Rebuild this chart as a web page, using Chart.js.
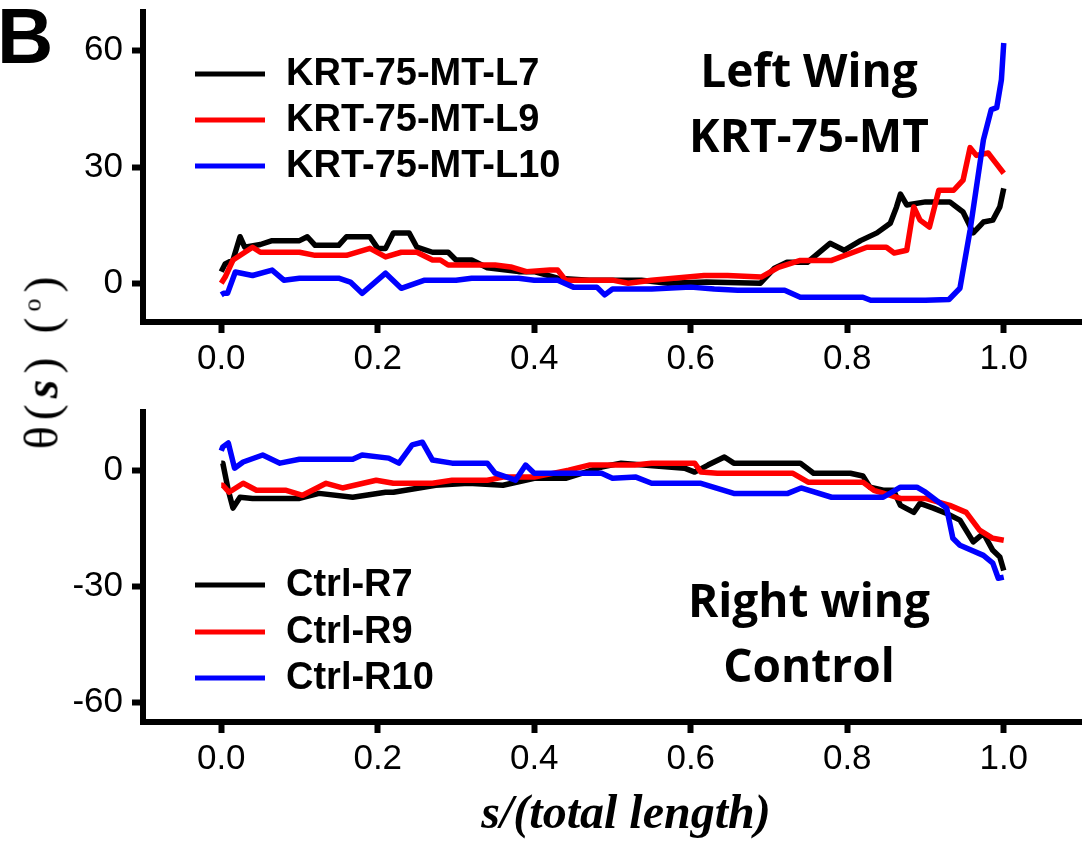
<!DOCTYPE html>
<html>
<head>
<meta charset="utf-8">
<script src="https://cdn.jsdelivr.net/npm/chart.js@4.4.1/dist/chart.umd.min.js"></script>
<style>
  body { margin: 0; background: #fff; }
  #wrap { position: relative; width: 1082px; height: 843px; overflow: hidden; background: #fff; }
  canvas { position: absolute; left: 0; }
  #panel { position: absolute; left: -3px; top: -3px; font: bold 78px "Liberation Sans", Arial, sans-serif; line-height: 78px; color: #000; }
  #ytitle { position: absolute; left: 41px; top: 360px; transform: translate(-50%, -50%) rotate(-90deg);
            font: 48px "Liberation Serif", "Times New Roman", serif; letter-spacing: 6px; white-space: nowrap; color: #000; }
  #ytitle sup { font-size: 26px; }
  #xtitle { position: absolute; left: 0; width: 1252px; top: 784px; text-align: center;
            font: italic bold 48px "Liberation Serif", "Times New Roman", serif; color: #000; white-space: nowrap; }
</style>
</head>
<body>
<div id="wrap">
  <div id="panel">B</div>
  <canvas id="topChart" width="1082" height="390" style="top:0"></canvas>
  <canvas id="bottomChart" width="1082" height="400" style="top:390px"></canvas>
  <div id="ytitle">θ(<b><i>s</i></b>)&nbsp;(<sup>o</sup>)</div>
  <div id="xtitle">s/(total length)</div>
</div>
<script>
// tick values
const sTicks = [0.0, 0.2, 0.4, 0.6, 0.8, 1.0];
const topTicks = [0, 30, 60];
const bottomTicks = [-60, -30, 0];

// left wing, KRT-75-MT
const L7_s = [0.0, 0.005, 0.015, 0.024, 0.03, 0.05, 0.065, 0.1, 0.11, 0.12, 0.15, 0.16, 0.19, 0.2, 0.21, 0.22, 0.24, 0.25, 0.27, 0.29, 0.30, 0.32, 0.34, 0.38, 0.40, 0.43, 0.47, 0.486, 0.537, 0.571, 0.62, 0.689, 0.707, 0.723, 0.749, 0.778, 0.796, 0.817, 0.838, 0.855, 0.863, 0.868, 0.876, 0.9, 0.931, 0.948, 0.961, 0.974, 0.986, 0.995, 1.0];
const L7_theta = [3, 5, 6, 12, 9.3, 10, 11, 11, 12, 9.8, 9.8, 12, 12, 9, 9, 13, 13, 9.3, 8, 8, 6, 6, 4, 3, 3, 1.3, 0.8, 0.8, 0.8, 0, 0.3, 0, 3.9, 5.4, 5.4, 10.3, 8.5, 11, 13, 15.5, 19.7, 23, 20.2, 21, 21, 18.4, 13, 15.8, 16.3, 19.7, 24.5];

const L9_s = [0.0, 0.005, 0.015, 0.04, 0.05, 0.1, 0.12, 0.16, 0.19, 0.21, 0.23, 0.25, 0.27, 0.28, 0.29, 0.35, 0.37, 0.39, 0.42, 0.43, 0.44, 0.5, 0.52, 0.55, 0.617, 0.647, 0.69, 0.712, 0.74, 0.78, 0.825, 0.85, 0.86, 0.876, 0.885, 0.893, 0.905, 0.917, 0.936, 0.948, 0.957, 0.965, 0.98, 0.99, 1.0];
const L9_theta = [0, 1.6, 6, 9.3, 8, 8, 7.2, 7.2, 9, 6.8, 8, 8, 6, 6, 4.7, 4.7, 4.2, 3, 3.4, 3.4, 0.8, 0.8, 0, 0.8, 2, 2, 1.6, 4.1, 5.9, 5.9, 9.3, 9.3, 7.8, 8.5, 19.7, 16.3, 14.5, 24, 24, 26.6, 35, 33, 33.6, 31, 28.4];

const L10_s = [0.0, 0.003, 0.008, 0.018, 0.04, 0.065, 0.08, 0.1, 0.15, 0.165, 0.18, 0.21, 0.23, 0.26, 0.3, 0.32, 0.38, 0.4, 0.43, 0.45, 0.48, 0.49, 0.5, 0.55, 0.6, 0.63, 0.66, 0.72, 0.74, 0.82, 0.83, 0.9, 0.93, 0.944, 0.957, 0.974, 0.984, 0.991, 0.997, 1.0];
const L10_theta = [-3, -2.6, -2.6, 2.9, 2, 3.4, 0.8, 1.3, 1.3, 0.3, -2.6, 2.6, -1.3, 0.8, 0.8, 1.3, 1.3, 0.8, 0.8, -1, -1, -3, -1.5, -1.5, -1, -1.5, -1.8, -1.8, -3.6, -3.6, -4.4, -4.4, -4.2, -1.3, 13.7, 37, 44.8, 45.3, 52.5, 62];

// right wing, control
const R7_s = [0.0, 0.002, 0.009, 0.015, 0.024, 0.04, 0.1, 0.125, 0.168, 0.21, 0.22, 0.274, 0.316, 0.36, 0.4, 0.44, 0.486, 0.511, 0.592, 0.605, 0.622, 0.643, 0.655, 0.74, 0.757, 0.804, 0.82, 0.829, 0.846, 0.859, 0.868, 0.885, 0.893, 0.91, 0.927, 0.944, 0.961, 0.974, 0.986, 0.995, 1.0];
const R7_theta = [1.8, 1.8, -5.2, -9.8, -7, -7.3, -7.3, -6, -7, -5.7, -5.7, -3.9, -3.4, -3.9, -2.1, -2.1, 0.8, 1.8, 0.5, -0.5, 1.3, 3.4, 1.8, 1.8, -0.8, -0.8, -1.5, -4.4, -5.2, -5.2, -9.1, -10.9, -8.6, -9.8, -11.2, -12.9, -18.5, -16.3, -20.7, -22.4, -25.9];

const R9_s = [0.0, 0.002, 0.01, 0.028, 0.045, 0.083, 0.104, 0.134, 0.155, 0.198, 0.22, 0.27, 0.295, 0.34, 0.36, 0.4, 0.444, 0.47, 0.528, 0.55, 0.605, 0.613, 0.634, 0.73, 0.75, 0.82, 0.834, 0.868, 0.9, 0.931, 0.952, 0.969, 0.986, 1.0];
const R9_theta = [-3.9, -3.9, -5.7, -3.4, -5.2, -5.2, -6.5, -3.4, -4.6, -2.6, -3.4, -3.4, -2.6, -2.6, -1.8, -1.8, 0, 1.3, 1.3, 1.8, 1.8, -0.5, -0.8, -0.8, -3.1, -3.1, -5.2, -7.3, -7.3, -9.1, -10.9, -15.5, -17.6, -18.1];

const R10_s = [0.0, 0.002, 0.009, 0.017, 0.028, 0.053, 0.075, 0.1, 0.168, 0.18, 0.214, 0.227, 0.244, 0.257, 0.27, 0.295, 0.34, 0.35, 0.376, 0.389, 0.4, 0.486, 0.5, 0.53, 0.55, 0.613, 0.655, 0.724, 0.741, 0.78, 0.846, 0.868, 0.889, 0.9, 0.927, 0.935, 0.944, 0.974, 0.986, 0.993, 1.0];
const R10_theta = [5, 6, 7, 0.5, 2.1, 3.9, 1.8, 2.8, 2.8, 3.9, 3.1, 1.8, 6.5, 7.2, 2.6, 1.8, 1.8, -0.8, -2.6, 1.3, -0.8, -0.8, -2.1, -1.8, -3.4, -3.4, -6, -6, -4.6, -7, -7, -4.4, -4.4, -5.7, -9.8, -17.6, -19.4, -22, -24, -27.9, -27.6];

function pts(xs, ys) {
    return xs.map((x, i) => ({ x: x, y: ys[i] }));
}

function line(label, xs, ys, color, order) {
    return {
        label: label,
        data: pts(xs, ys),
        borderColor: color,
        backgroundColor: color,
        borderWidth: 5.5,
        borderJoinStyle: 'round',
        pointRadius: 0,
        tension: 0,
        order: order
    };
}

// legend drawn inside the plot, left side
const inlineLegend = {
    id: 'inlineLegend',
    afterDatasetsDraw(chart, args, opts) {
        const ctx = chart.ctx;
        ctx.save();
        ctx.font = 'bold 38px "Liberation Sans", Arial, sans-serif';
        ctx.textBaseline = 'middle';
        ctx.textAlign = 'left';
        chart.data.datasets.forEach((ds, i) => {
            const y = opts.rows[i];
            ctx.strokeStyle = ds.borderColor;
            ctx.lineWidth = 5;
            ctx.beginPath();
            ctx.moveTo(195, y);
            ctx.lineTo(265, y);
            ctx.stroke();
            ctx.fillStyle = '#000';
            ctx.fillText(ds.label, 286, y + 1);
        });
        ctx.restore();
    }
};

const notes = {
    id: 'notes',
    afterDatasetsDraw(chart, args, opts) {
        const ctx = chart.ctx;
        ctx.save();
        ctx.font = 'bold 46px "Open Sans", sans-serif';
        ctx.textAlign = 'center';
        ctx.textBaseline = 'alphabetic';
        ctx.fillStyle = '#000';
        opts.lines.forEach(l => ctx.fillText(l.text, 809, l.y));
        ctx.restore();
    }
};

function makeChart(id, datasets, yMin, yMax, yTicks, padTop, areaBottom, legendRows, noteLines) {
    const canvas = document.getElementById(id);
    return new Chart(canvas, {
        type: 'line',
        data: { datasets: datasets },
        plugins: [inlineLegend, notes],
        options: {
            responsive: false,
            animation: false,
            devicePixelRatio: 1,
            layout: { padding: { top: padTop, left: 0, right: 0, bottom: 0 } },
            plugins: {
                legend: { display: false },
                tooltip: { enabled: false },
                inlineLegend: { rows: legendRows },
                notes: { lines: noteLines }
            },
            scales: {
                x: {
                    type: 'linear',
                    min: -0.1,
                    max: 1.1,
                    afterBuildTicks: s => { s.ticks = sTicks.map(v => ({ value: v })); },
                    afterFit: s => { s.height = canvas.height - areaBottom; s.paddingLeft = 0; s.paddingRight = 0; },
                    ticks: {
                        callback: v => Number(v).toFixed(1),
                        color: '#000',
                        padding: 5,
                        maxRotation: 0,
                        font: { family: '"Liberation Sans", Arial, sans-serif', size: 35 }
                    },
                    grid: { drawOnChartArea: false, tickLength: 11, tickWidth: 6, tickColor: '#000', color: '#000' },
                    border: { display: true, width: 6, color: '#000' }
                },
                y: {
                    type: 'linear',
                    min: yMin,
                    max: yMax,
                    afterBuildTicks: s => { s.ticks = yTicks.map(v => ({ value: v })); },
                    afterFit: s => { s.width = 143; s.paddingTop = 0; s.paddingBottom = 0; },
                    ticks: {
                        callback: v => String(v),
                        color: '#000',
                        padding: 9,
                        font: { family: '"Liberation Sans", Arial, sans-serif', size: 35 }
                    },
                    grid: { drawOnChartArea: false, tickLength: 11, tickWidth: 6, tickColor: '#000', color: '#000' },
                    border: { display: true, width: 6, color: '#000' }
                }
            }
        }
    });
}

makeChart('topChart', [
    line('KRT-75-MT-L7', L7_s, L7_theta, '#000000', 3),
    line('KRT-75-MT-L9', L9_s, L9_theta, '#ff0000', 2),
    line('KRT-75-MT-L10', L10_s, L10_theta, '#0000ff', 1)
], -10, 70, topTicks, 12, 322, [74, 120, 166],
   [{ text: 'Left Wing', y: 87 }, { text: 'KRT-75-MT', y: 152 }]);

makeChart('bottomChart', [
    line('Ctrl-R7', R7_s, R7_theta, '#000000', 3),
    line('Ctrl-R9', R9_s, R9_theta, '#ff0000', 2),
    line('Ctrl-R10', R10_s, R10_theta, '#0000ff', 1)
], -65, 15, bottomTicks, 22, 332, [195, 242, 288],
   [{ text: 'Right wing', y: 227 }, { text: 'Control', y: 292 }]);
</script>
</body>
</html>
